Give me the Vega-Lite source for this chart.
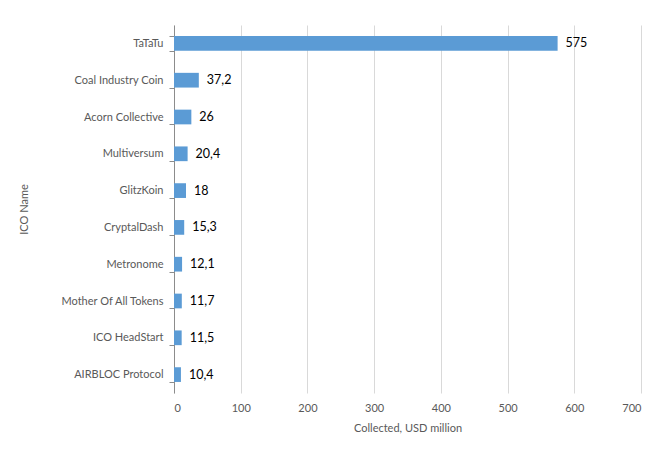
{
  "$schema": "https://vega.github.io/schema/vega-lite/v6.json",
  "width": 467,
  "height": 368,
  "autosize": {"type": "none"},
  "padding": {"left": 174, "top": 25, "right": 28, "bottom": 62},
  "background": "white",
  "data": {
    "values": [
      {"name": "TaTaTu", "usd": 575},
      {"name": "Coal Industry Coin", "usd": 37.2},
      {"name": "Acorn Collective", "usd": 26},
      {"name": "Multiversum", "usd": 20.4},
      {"name": "GlitzKoin", "usd": 18},
      {"name": "CryptalDash", "usd": 15.3},
      {"name": "Metronome", "usd": 12.1},
      {"name": "Mother Of All Tokens", "usd": 11.7},
      {"name": "ICO HeadStart", "usd": 11.5},
      {"name": "AIRBLOC Protocol", "usd": 10.4}
    ]
  },
  "encoding": {
    "y": {
      "field": "name",
      "type": "nominal",
      "sort": null,
      "title": "ICO Name",
      "scale": {"paddingInner": 0.6, "paddingOuter": 0.3},
      "axis": {
        "tickBand": "extent",
        "tickSize": 5,
        "tickColor": "#8c8c8c",
        "domainColor": "#8c8c8c",
        "labelPadding": 6,
        "titlePadding": 30,
        "grid": false
      }
    },
    "x": {
      "field": "usd",
      "type": "quantitative",
      "title": "Collected, USD million",
      "scale": {"domain": [0, 700], "nice": false},
      "axis": {
        "values": [0, 100, 200, 300, 400, 500, 600, 700],
        "domain": false,
        "ticks": false,
        "labelPadding": 9,
        "titlePadding": 9,
        "gridColor": "#d9d9d9"
      }
    }
  },
  "layer": [
    {"mark": {"type": "bar", "color": "#5b9bd5"}},
    {
      "mark": {"type": "text", "align": "left", "dx": 8, "font": "Lato", "fontSize": 12.5, "color": "#000000"},
      "encoding": {"text": {"field": "usd", "type": "quantitative", "format": ".4~r"}}
    }
  ],
  "config": {
    "locale": {"number": {"decimal": ",", "thousands": " ", "grouping": [3], "currency": ["", ""]}},
    "view": {"stroke": null},
    "axis": {
      "labelFont": "Lato",
      "labelFontSize": 11,
      "labelColor": "#595959",
      "titleFont": "Lato",
      "titleFontSize": 11,
      "titleFontWeight": "normal",
      "titleColor": "#595959"
    }
  }
}
